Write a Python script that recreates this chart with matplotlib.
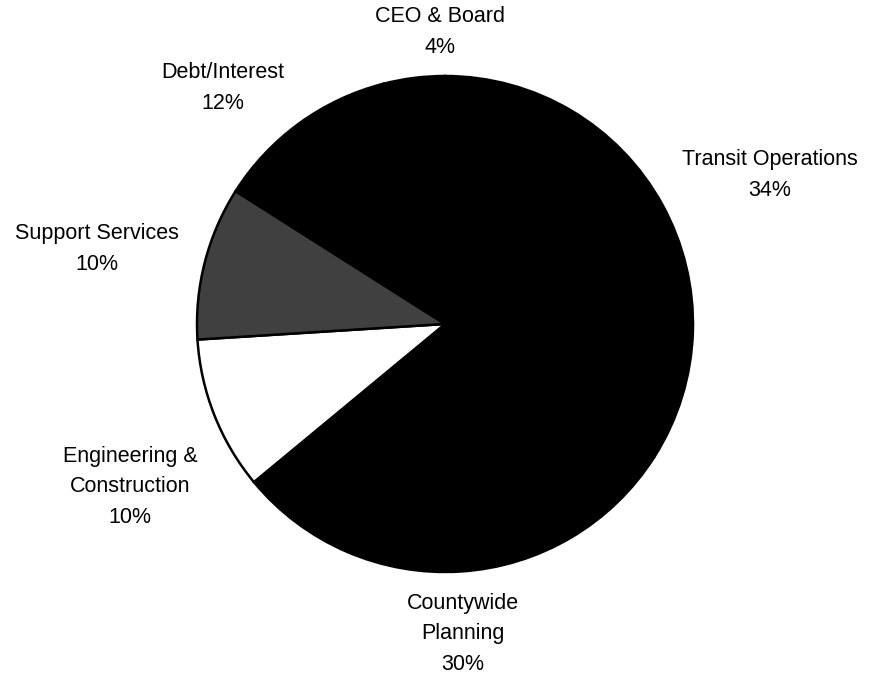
import matplotlib
matplotlib.use("Agg")
from matplotlib import pyplot as plt

labels = ["Transit Operations\n34%", "Countywide\nPlanning\n30%", "Engineering &\nConstruction\n10%",
          "Support Services\n10%", "Debt/Interest\n12%", "CEO & Board\n4%"]
shares = [34, 30, 10, 10, 12, 4]
colors = ["black", "black", "white", "#404040", "black", "black"]
# label centres in picture pixels (x, y from top)
label_pos = [(770, 175), (463, 634), (130, 487), (97, 249), (223, 88), (440, 32)]

W, H = 869, 681
fig = plt.figure(figsize=(W / 100, H / 100), dpi=100)
ax = fig.add_axes([0, 0, 1, 1])

ax.pie(shares, colors=colors, startangle=90, counterclock=False,
       center=(445, H - 324), radius=248, frame=True,
       wedgeprops=dict(edgecolor="black", linewidth=1.8))
ax.set_xlim(0, W)
ax.set_ylim(0, H)
ax.set_aspect("equal")
ax.axis("off")

for lab, (x, y) in zip(labels, label_pos):
    ax.text(x, H - y, lab, ha="center", va="center", fontsize=15.5,
            family="Liberation Sans", linespacing=1.58)

fig.savefig("out.png", dpi=100)
